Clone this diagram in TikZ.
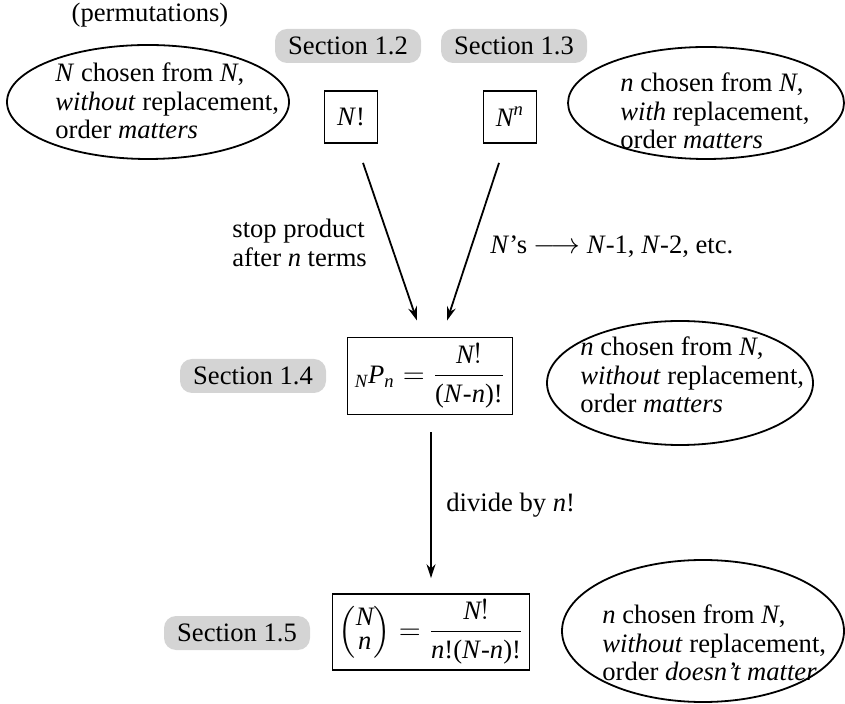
\documentclass[tikz,border=0pt]{standalone}
\usepackage{amsmath}
\usepackage{fontspec}
\setmainfont{Liberation Serif}
\usepackage{tikz}
\usetikzlibrary{arrows.meta,calc}
\definecolor{SectionGray}{RGB}{212,212,212}

\begin{document}
\begin{tikzpicture}[x=0.5pt,y=-0.5pt,
    every node/.style={font=\fontsize{13.3}{14.2}\selectfont},
    section/.style={fill=SectionGray, rounded corners=6pt, minimum width=73pt, minimum height=17pt, inner sep=0pt},
    formula/.style={draw, line width=0.9pt, inner sep=0pt},
    oval/.style={line width=0.9pt},
    describe/.style={align=left, anchor=west, inner sep=0pt},
    flow/.style={line width=0.9pt, -{Stealth[length=7pt,width=4.5pt]}}]
    \useasboundingbox (0,0) rectangle (845,704);
    %%Title
    \node (permlabel) at (150,15) {(permutations)};
    %%Sections
    \node[section] (sec12) at (348,46) {Section 1.2};
    \node[section] (sec13) at (514,46) {Section 1.3};
    \node[section] (sec14) at (253,376) {Section 1.4};
    \node[section] (sec15) at (237,633) {Section 1.5};
    %%Formulas
    \node[formula, minimum width=26.5pt, minimum height=26pt] (nfact) at (351,117) {\textit{N}!};
    \node[formula, minimum width=26.5pt, minimum height=26pt] (npow) at (510,117) {$\textit{N}^{\textit{n}}$};
    \node[formula, minimum width=82.5pt, minimum height=38.5pt] (perm) at (430,376)
        {${}_{\textit{N}}\textit{P}_{\textit{n}} = \dfrac{\textit{N}!}{\text{(\textit{N}-\textit{n})!}}$};
    \node[formula, minimum width=98.5pt, minimum height=38pt] (comb) at (431,632)
        {$\Bigl(\begin{matrix}\textit{N}\\[-2.5pt]\textit{n}\end{matrix}\Bigr) = \dfrac{\textit{N}!}{\text{\textit{n}!(\textit{N}-\textit{n})!}}$};
    %%Ovals
    \draw[oval] (148,102) ellipse [x radius=141, y radius=57];
    \draw[oval] (706,103) ellipse [x radius=138, y radius=56];
    \draw[oval] (680,383) ellipse [x radius=133, y radius=62];
    \draw[oval] (703,631) ellipse [x radius=141, y radius=71];
    \node[describe] (case1) at (55,101) {\textit{N} chosen from \textit{N},\\ \textit{without} replacement,\\ order \textit{matters}};
    \node[describe] (case2) at (620,111) {\textit{n} chosen from \textit{N},\\ \textit{with} replacement,\\ order \textit{matters}};
    \node[describe] (case3) at (580,375) {\textit{n} chosen from \textit{N},\\ \textit{without} replacement,\\ order \textit{matters}};
    \node[describe] (case4) at (602,643) {\textit{n} chosen from \textit{N},\\ \textit{without} replacement,\\ order \textit{doesn’t matter}};
    %%Arrows
    \draw[flow] ($(nfact.south)+(12,19)$) -- ($(perm.north)+(-13,-16)$);
    \draw[flow] ($(npow.south)+(-11,19)$) -- ($(perm.north)+(17,-16)$);
    \draw[flow] ($(perm.south)+(1,17)$) -- ($(comb.north)+(0,-15)$);
    \node[describe] (stoplabel) at (232,243) {stop product\\ after \textit{n} terms};
    \node[describe] (shiftlabel) at (490,247) {\textit{N}’s $\longrightarrow$ \textit{N}-1, \textit{N}-2, etc.};
    \node[describe] (dividelabel) at (446,505) {divide by \textit{n}!};
\end{tikzpicture}
\end{document}
